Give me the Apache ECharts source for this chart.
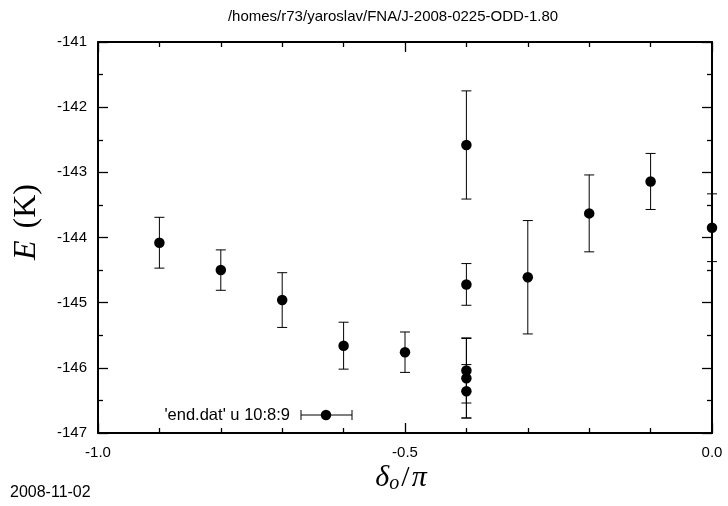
<!DOCTYPE html>
<html>
<head>
<meta charset="utf-8">
<script src="https://cdn.jsdelivr.net/npm/echarts@6/dist/echarts.min.js"></script>
<style>html,body{margin:0;padding:0;background:#fff;}#c{width:728px;height:506px;}</style>
</head>
<body>
<div id="c"></div>
<script>
// Data (delta_o/pi, E in K, error in K)
const xs   = [-0.9, -0.8, -0.7, -0.6, -0.5, -0.4, -0.4, -0.4, -0.4, -0.4, -0.3, -0.2, -0.1, 0.0];
const ys   = [-144.08, -144.50, -144.96, -145.66, -145.76, -142.58, -144.72, -146.04, -146.16, -146.36, -144.61, -143.63, -143.14, -143.85];
const errs = [0.39, 0.31, 0.42, 0.36, 0.31, 0.83, 0.32, 0.50, 0.61, 0.41, 0.87, 0.59, 0.43, 0.52];

const titleText = '/homes/r73/yaroslav/FNA/J-2008-0225-ODD-1.80';
const dateText = '2008-11-02';
const legendText = "'end.dat' u 10:8:9";

const FONT = 'Liberation Sans, Arial, sans-serif';
const SERIF = 'Liberation Serif, DejaVu Serif, serif';

const pts = xs.map((x, i) => [x, ys[i], errs[i]]);

const chart = echarts.init(document.getElementById('c'), null, {renderer: 'canvas'});

const xBase = {
  type: 'value', min: -1, max: 0, interval: 0.5,
  axisLine: {show: true, onZero: false, lineStyle: {color: '#000', width: 2}},
  axisTick: {show: true, inside: true, length: 10, lineStyle: {color: '#000', width: 1.3}},
  minorTick: {show: true, splitNumber: 5, length: 5, lineStyle: {color: '#000', width: 1.3}},
  splitLine: {show: false}, minorSplitLine: {show: false}
};
const yBase = {
  type: 'value', min: -147, max: -141, interval: 1,
  axisLine: {show: true, onZero: false, lineStyle: {color: '#000', width: 2}},
  axisTick: {show: true, inside: true, length: 10, lineStyle: {color: '#000', width: 1.3}},
  minorTick: {show: true, splitNumber: 2, length: 5, lineStyle: {color: '#000', width: 1.3}},
  splitLine: {show: false}, minorSplitLine: {show: false}
};

chart.setOption({
  animation: false,
  backgroundColor: '#fff',
  grid: {left: 98, right: 16, top: 42, bottom: 73, containLabel: false},
  xAxis: [
    Object.assign({}, xBase, {
      position: 'bottom',
      axisLabel: {show: true, margin: 12, color: '#000', fontSize: 15, fontFamily: FONT,
        formatter: v => v.toFixed(1)}
    }),
    Object.assign({}, xBase, {position: 'top', axisLabel: {show: false}})
  ],
  yAxis: [
    Object.assign({}, yBase, {
      position: 'left',
      axisLabel: {show: true, margin: 11, color: '#000', fontSize: 15, fontFamily: FONT}
    }),
    Object.assign({}, yBase, {position: 'right', axisLabel: {show: false}})
  ],
  series: [
    {
      type: 'custom',
      xAxisIndex: 0, yAxisIndex: 0,
      clip: false,
      data: pts,
      renderItem: function (params, api) {
        const x = api.value(0), y = api.value(1), e = api.value(2);
        const t = api.coord([x, y + e]);
        const b = api.coord([x, y - e]);
        const hw = 5;
        const st = {stroke: '#000', lineWidth: 1};
        return {
          type: 'group',
          children: [
            {type: 'line', shape: {x1: t[0], y1: t[1], x2: b[0], y2: b[1]}, style: st},
            {type: 'line', shape: {x1: t[0] - hw, y1: t[1], x2: t[0] + hw, y2: t[1]}, style: st},
            {type: 'line', shape: {x1: b[0] - hw, y1: b[1], x2: b[0] + hw, y2: b[1]}, style: st}
          ]
        };
      },
      z: 3
    },
    {
      type: 'scatter',
      xAxisIndex: 0, yAxisIndex: 0,
      clip: false,
      symbol: 'circle', symbolSize: 10.5,
      itemStyle: {color: '#000', opacity: 1},
      data: pts.map(p => [p[0], p[1]]),
      z: 4
    }
  ],
  graphic: [
    {type: 'text', x: 393, y: 17,
      style: {text: titleText, fontSize: 15, fontFamily: FONT, fill: '#000', align: 'center', verticalAlign: 'middle'}},
    {type: 'text', x: 10, y: 493,
      style: {text: dateText, fontSize: 16, fontFamily: FONT, fill: '#000', align: 'left', verticalAlign: 'middle'}},
    {type: 'text', x: 290, y: 415,
      style: {text: legendText, fontSize: 16.5, fontFamily: FONT, fill: '#000', align: 'right', verticalAlign: 'middle'}},
    {type: 'line', shape: {x1: 301, y1: 415, x2: 352, y2: 415}, style: {stroke: '#000', lineWidth: 1}},
    {type: 'line', shape: {x1: 301, y1: 410, x2: 301, y2: 420}, style: {stroke: '#000', lineWidth: 1}},
    {type: 'line', shape: {x1: 352, y1: 410, x2: 352, y2: 420}, style: {stroke: '#000', lineWidth: 1}},
    {type: 'circle', shape: {cx: 326, cy: 415, r: 5.25}, style: {fill: '#000'}},
    // axis titles
    {type: 'text', x: 27, y: 222, rotation: Math.PI / 2,
      style: {text: '{i|E}{r|(K)}', align: 'center', verticalAlign: 'middle',
        rich: {
          i: {fontFamily: SERIF, fontStyle: 'italic', fontSize: 32, fill: '#000', color: '#000'},
          r: {fontFamily: SERIF, fontSize: 32, fill: '#000', color: '#000', padding: [0, 0, 0, 12]}
        }}},
    {type: 'text', x: 401, y: 478,
      style: {text: '{d|δ}{s|o}{n|/}{d|π}', align: 'center', verticalAlign: 'middle',
        rich: {
          d: {fontFamily: SERIF, fontStyle: 'italic', fontSize: 30, fill: '#000', color: '#000'},
          s: {fontFamily: SERIF, fontStyle: 'italic', fontSize: 20, fill: '#000', color: '#000', padding: [12, 1, 0, 0]},
          n: {fontFamily: SERIF, fontSize: 30, fill: '#000', color: '#000', padding: [0, 2, 0, 1]}
        }}}
  ]
});
</script>
</body>
</html>
